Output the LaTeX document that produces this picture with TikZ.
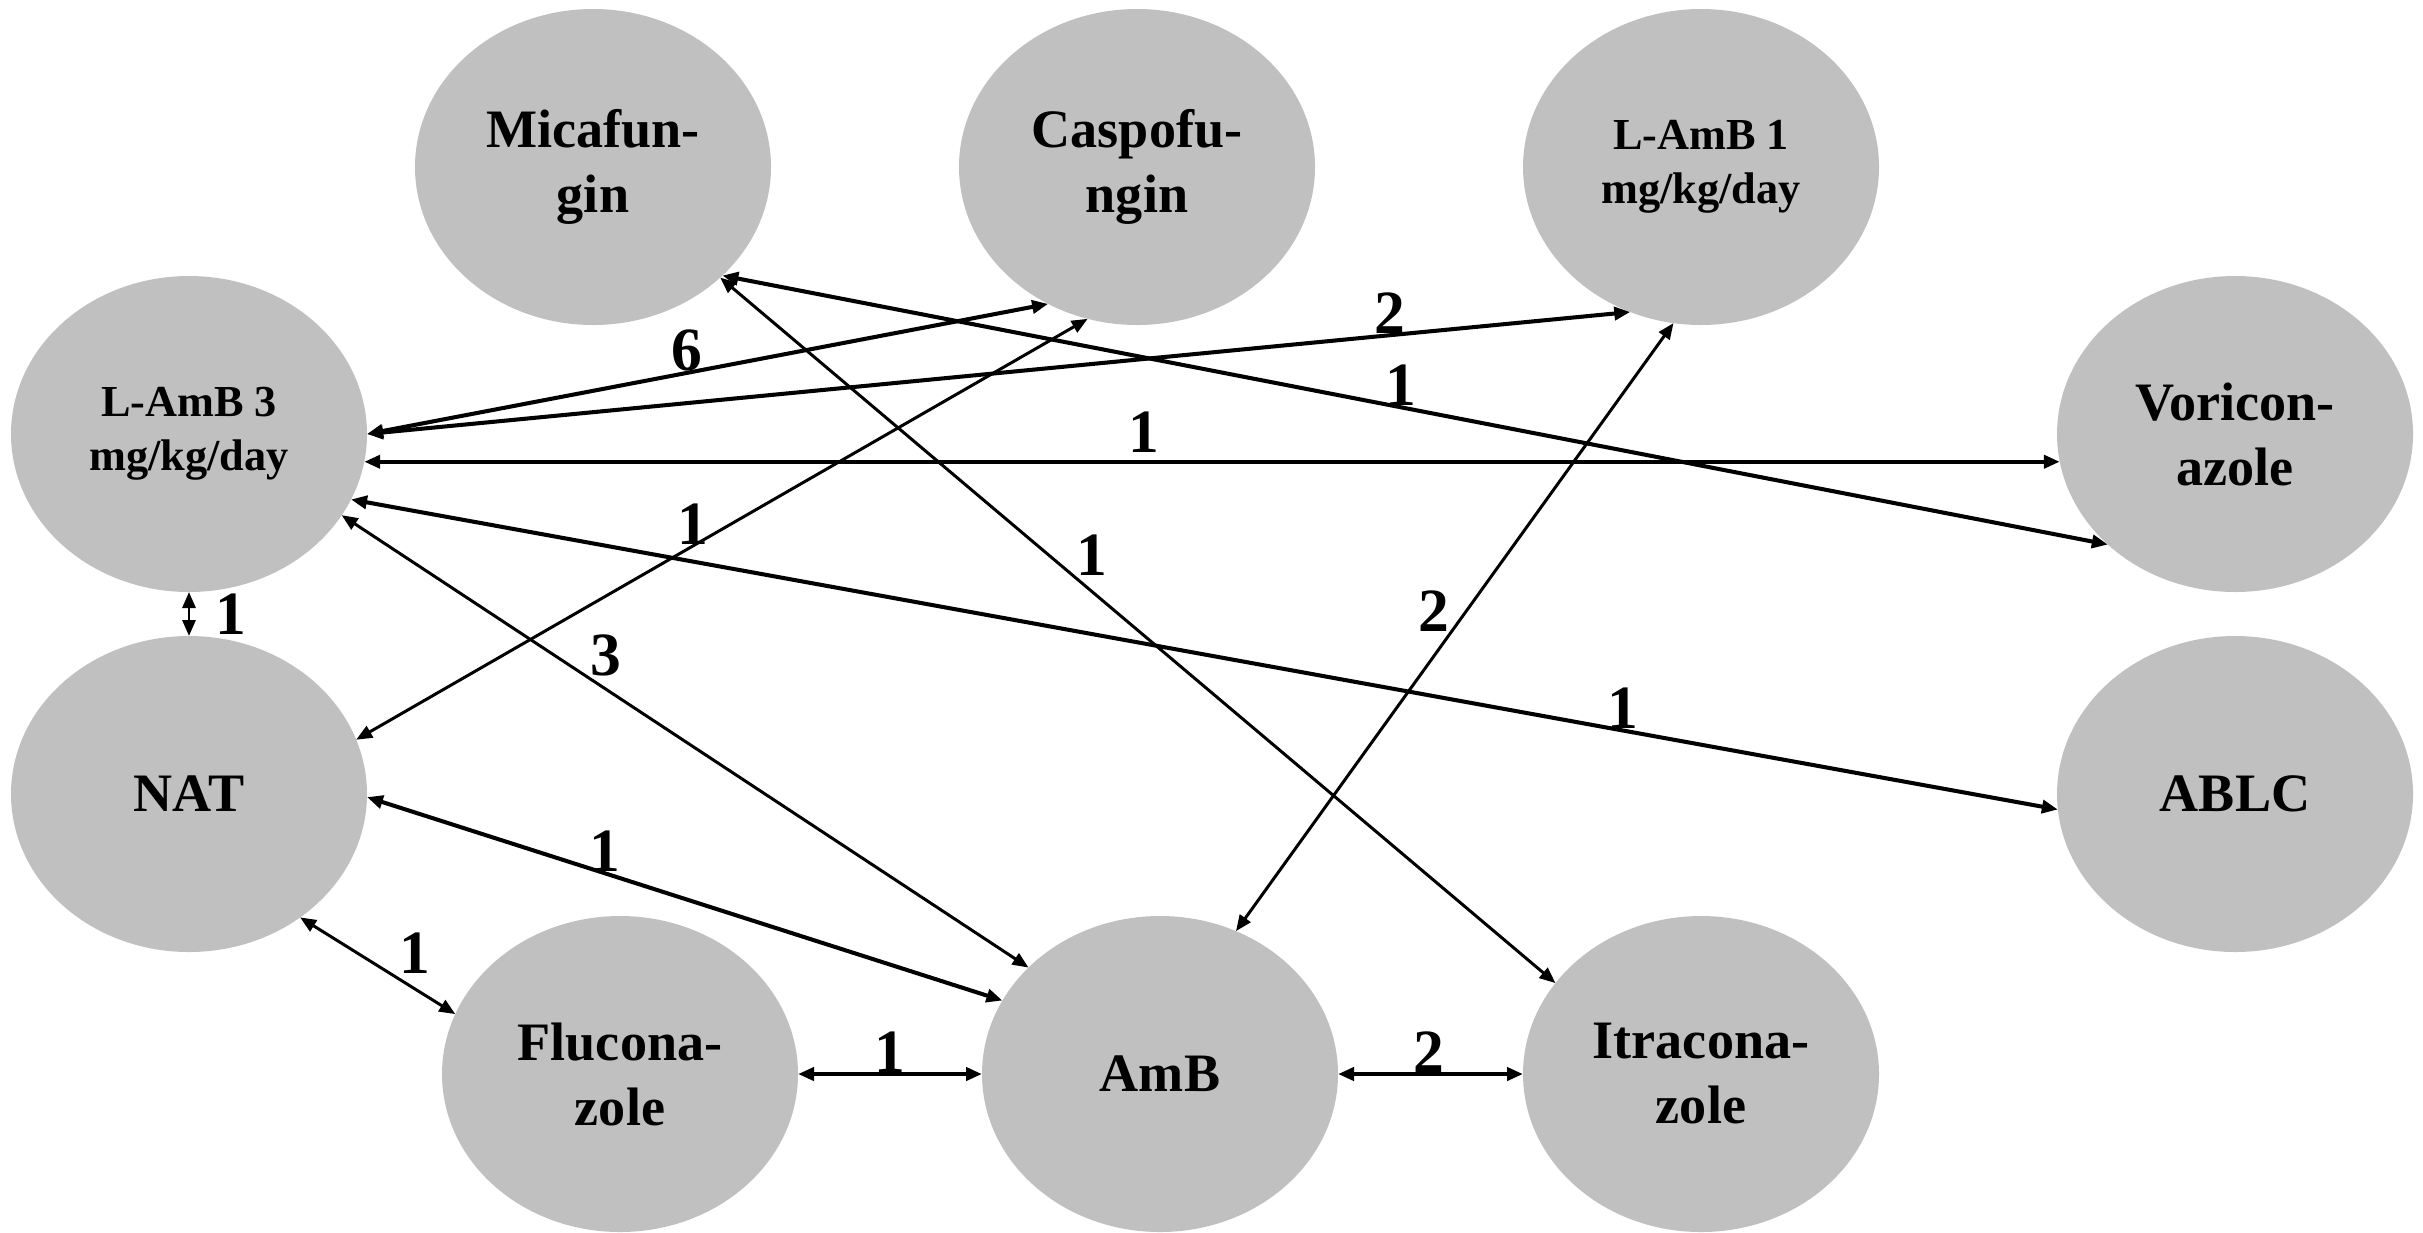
\documentclass[tikz,border=0pt]{standalone}
\usepackage{fontspec}
\setmainfont{Liberation Serif}
\usepackage{xcolor}
\usetikzlibrary{shapes.geometric,arrows.meta}
\definecolor{ovalgray}{RGB}{192,192,192}
\newcommand{\drugfont}{\fontsize{15.4}{18.5}\selectfont\bfseries}
\newcommand{\dosefont}{\fontsize{12.6}{15.4}\selectfont\bfseries}
\newcommand{\countfont}{\fontsize{17.5}{18}\selectfont\bfseries}
\tikzset{
  drug/.style={ellipse, fill=ovalgray, minimum width=3.56cm, minimum height=3.16cm,
    inner sep=0pt, outer sep=0pt, align=center, font=\drugfont},
  dose/.style={drug, font=\dosefont},
  num/.style={font=\countfont, inner sep=0pt},
  heavy/.style={<->, line width=1.15pt},
  light/.style={<->, line width=0.85pt},
  >={Triangle[length=0.16cm,width=0.13cm]}
}

\begin{document}
\begin{tikzpicture}
\useasboundingbox (0,0) rectangle (24.23,-12.32);
% treatments
\node[drug] (mica) at (5.93,-1.67) {Micafun-\\gin};
\node[drug] (caspo) at (11.37,-1.67) {Caspofu-\\ngin};
\node[dose] (lamb1) at (17.01,-1.67) {L-AmB 1\\mg/kg/day};
\node[dose] (lamb3) at (1.89,-4.34) {L-AmB 3\\mg/kg/day};
\node[drug] (vori) at (22.35,-4.34) {Voricon-\\azole};
\node[drug] (nat) at (1.89,-7.94) {NAT};
\node[drug] (ablc) at (22.35,-7.94) {ABLC};
\node[drug] (fluco) at (6.20,-10.74) {Flucona-\\zole};
\node[drug] (amb) at (11.60,-10.74) {AmB};
\node[drug] (itra) at (17.01,-10.74) {Itracona-\\zole};
% comparisons
\draw[heavy] (lamb3.east) -- node[num, pos=.47, anchor=south] (c1) {6} (caspo.237);
\draw[heavy] (lamb3.east) -- node[num, pos=.81, anchor=south] (c2) {2} (lamb1.244);
\draw[heavy] (mica.320) -- node[num, pos=.49, anchor=south] (c3) {1} (vori.221);
\draw[heavy] (lamb3.351) -- node[num, pos=.46, anchor=south, yshift=2pt] (c4) {1} (vori.189);
\draw[heavy] (lamb3.338) -- node[num, pos=.745, anchor=south] (c5) {1} (ablc.185);
\draw[light] (caspo.252) -- node[num, pos=.54, anchor=south] (c6) {1} (nat.18);
\draw[light] (mica.319) -- node[num, pos=.425, anchor=south west] (c7) {1} (itra.148);
\draw[light] (lamb1.260) -- node[num, pos=.51, anchor=south east] (c8) {2} (amb.62);
\draw[light] (lamb3.332) -- node[num, pos=.36, anchor=south west] (c9) {3} (amb.141);
\draw[light] (lamb3.south) -- node[num, pos=.5, anchor=west, xshift=0.25cm] (c10) {1} (nat.north);
\draw[heavy] (nat.359) -- node[num, pos=.375, anchor=south] (c11) {1} (amb.155);
\draw[light] (nat.312) -- node[num, pos=.6, anchor=south west, xshift=0.05cm] (c12) {1} (fluco.160);
\draw[heavy] (fluco.east) -- node[num, pos=.5, anchor=south] (c13) {1} (amb.west);
\draw[heavy] (amb.east) -- node[num, pos=.49, anchor=south] (c14) {2} (itra.west);
\end{tikzpicture}
\end{document}
